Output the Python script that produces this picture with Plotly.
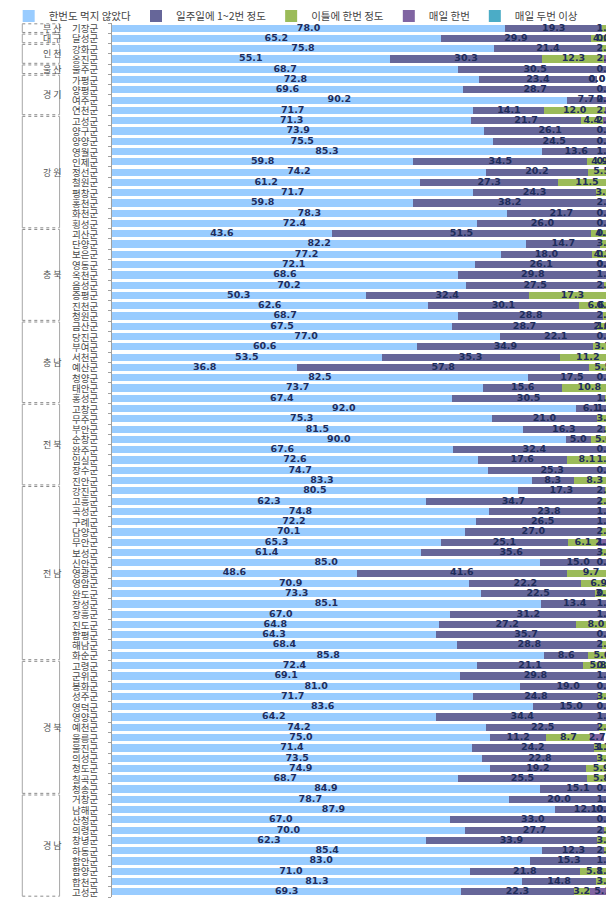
import plotly.graph_objects as go

series_names = ["한번도 먹지 않았다", "일주일에 1~2번 정도", "이틀에 한번 정도", "매일 한번", "매일 두번 이상"]
colors = ["#99CCFF", "#666699", "#9BBB59", "#8064A2", "#4BACC6"]

groups = ["부 산", "대 구", "인 천", "울 산", "경 기", "강 원", "충 북", "충 남", "전 북", "전 남", "경 북", "경 남"]
group_sizes = [1, 1, 2, 1, 4, 11, 9, 8, 8, 17, 13, 10]

counties = ["기장군", "달성군", "강화군", "옹진군", "울주군", "가평군", "양평군", "여주군", "연천군",
            "고성군", "양구군", "양양군", "영월군", "인제군", "정선군", "철원군", "평창군", "홍천군", "화천군", "횡성군",
            "괴산군", "단양군", "보은군", "영동군", "옥천군", "음성군", "증평군", "진천군", "청원군",
            "금산군", "당진군", "부여군", "서천군", "예산군", "청양군", "태안군", "홍성군",
            "고창군", "무주군", "부안군", "순창군", "완주군", "임실군", "장수군", "진안군",
            "강진군", "고흥군", "곡성군", "구례군", "담양군", "무안군", "보성군", "신안군", "영광군", "영암군",
            "완도군", "장성군", "장흥군", "진도군", "함평군", "해남군", "화순군",
            "고령군", "군위군", "봉화군", "성주군", "영덕군", "영양군", "예천군", "울릉군", "울진군", "의성군",
            "청도군", "칠곡군", "청송군",
            "거창군", "남해군", "산청군", "의령군", "창녕군", "하동군", "함안군", "함양군", "합천군", "고성군"]

N = None
never = [78.0, 65.2, 75.8, 55.1, 68.7, 72.8, 69.6, 90.2, 71.7,
         71.3, 73.9, 75.5, 85.3, 59.8, 74.2, 61.2, 71.7, 59.8, 78.3, 72.4,
         43.6, 82.2, 77.2, 72.1, 68.6, 70.2, 50.3, 62.6, 68.7,
         67.5, 77.0, 60.6, 53.5, 36.8, 82.5, 73.7, 67.4,
         92.0, 75.3, 81.5, 90.0, 67.6, 72.6, 74.7, 83.3,
         80.5, 62.3, 74.8, 72.2, 70.1, 65.3, 61.4, 85.0, 48.6, 70.9,
         73.3, 85.1, 67.0, 64.8, 64.3, 68.4, 85.8,
         72.4, 69.1, 81.0, 71.7, 83.6, 64.2, 74.2, 75.0, 71.4, 73.5,
         74.9, 68.7, 84.9,
         78.7, 87.9, 67.0, 70.0, 62.3, 85.4, 83.0, 71.0, 81.3, 69.3]
weekly = [19.3, 29.9, 21.4, 30.3, 30.5, 23.4, 28.7, 7.7, 14.1,
          21.7, 26.1, 24.5, 13.6, 34.5, 20.2, 27.3, 24.3, 38.2, 21.7, 26.0,
          51.5, 14.7, 18.0, 26.1, 29.8, 27.5, 32.4, 30.1, 28.8,
          28.7, 22.1, 34.9, 35.3, 57.8, 17.5, 15.6, 30.5,
          6.1, 21.0, 16.3, 5.0, 32.4, 17.6, 25.3, 8.3,
          17.3, 34.7, 23.8, 26.5, 27.0, 25.1, 35.6, 15.0, 41.6, 22.2,
          22.5, 13.4, 31.2, 27.2, 35.7, 28.8, 8.6,
          21.1, 29.8, 19.0, 24.8, 15.0, 34.4, 22.5, 11.2, 24.2, 22.8,
          19.2, 25.5, 15.1,
          20.0, 12.1, 33.0, 27.7, 33.9, 12.3, 15.3, 21.8, 14.8, 22.3]
every2 = [1.8, 4.0, 2.8, 12.3, 0.8, 0.0, 0.0, 0.0, 12.0,
          4.4, 0.0, 0.0, 1.1, 4.9, 5.5, 11.5, 3.2, 2.0, 0.0, 0.0,
          4.9, 3.1, 4.1, 0.9, 1.5, 2.2, 17.3, 6.6, 2.5,
          2.0, 0.9, 3.7, 11.2, 5.5, 0.0, 10.8, 1.4,
          1.9, 3.7, 2.2, 5.0, 0.0, 8.1, 0.0, 8.3,
          2.3, 2.3, 1.3, 1.3, 2.9, 6.1, 3.0, 0.0, 9.7, 6.9,
          3.5, 1.6, 1.8, 8.0, 0.0, 2.0, 5.6,
          5.8, 1.1, 0.0, 3.5, 0.9, 1.4, 2.6, 8.7, 3.1, 3.6,
          5.9, 5.8, 0.0,
          1.3, 0.0, 0.0, 2.3, 3.8, 2.3, 1.7, 5.8, 3.9, 3.2]
daily1 = [N, 0.9, N, 2.4, N, 0.0, N, 2.1, 2.2,
          2.6, N, N, N, 0.7, N, N, N, N, N, N,
          0.0, N, 0.7, 0.9, N, N, N, 0.7, N,
          1.8, N, N, N, N, N, N, N,
          N, N, N, N, N, 1.6, N, N,
          N, N, N, N, N, 2.1, N, N, N, N,
          0.7, N, N, N, N, N, N,
          0.7, N, N, N, N, N, N, 2.7, 1.3, N,
          N, N, N,
          N, 0.0, N, N, N, N, N, 1.3, N, 5.1]
daily2 = [N] * len(counties)
daily2[50] = 1.4

series = [never, weekly, every2, daily1, daily2]

fig = go.Figure()
ypos = list(range(len(counties)))
for name, col, vals in zip(series_names, colors, series):
    fig.add_trace(go.Bar(
        y=ypos, x=[v if v is not None else 0 for v in vals], name=name, orientation="h",
        marker=dict(color=col, line=dict(width=0)), hoverinfo="x+name",
    ))

# data labels centred in each segment, computed from the series values
lx, ly, lt = [], [], []
for i in range(len(counties)):
    cum = 0.0
    for vals in series:
        v = vals[i]
        if v is None:
            continue
        mid = cum + v / 2.0
        lx.append(min(mid, 97.8))
        ly.append(i)
        lt.append(f"{v:.1f}")
        cum += v
fig.add_trace(go.Scatter(
    x=lx, y=ly, text=lt, mode="text", showlegend=False, hoverinfo="skip",
    textfont=dict(family="DejaVu Sans", size=9.5, color="#1F2D5C", weight="bold"),
    cliponaxis=False,
))

shapes, annotations = [], []

# county names as category labels
for i, c in enumerate(counties):
    annotations.append(dict(xref="paper", yref="y", x=-0.026, y=i, xanchor="right", yanchor="middle",
                            text=c, showarrow=False, borderpad=0,
                            font=dict(family="Noto Sans CJK KR", size=9.5, color="#4A4A4A")))

# group boxes on the left
start = 0
for g, n in zip(groups, group_sizes):
    y0, y1 = start - 0.42, start + n - 1 + 0.42
    x0, x1 = -0.178, -0.104
    for (a, b) in [(y0, y0), (y1, y1)]:
        shapes.append(dict(type="line", xref="paper", yref="y", x0=x0, x1=x1, y0=a, y1=b,
                           line=dict(color="#8C8C8C", width=1, dash="dot")))
    for xx in (x0, x1):
        shapes.append(dict(type="line", xref="paper", yref="y", x0=xx, x1=xx, y0=y0, y1=y1,
                           line=dict(color="#A6A6A6", width=1)))
    annotations.append(dict(xref="paper", yref="y", x=(x0 + x1) / 2, y=start + (n - 1) / 2,
                            text=g, showarrow=False,
                            font=dict(family="Noto Sans CJK KR", size=9, color="#555555")))
    start += n

boundaries = [i - 0.5 for i in range(len(counties) + 1)]

fig.update_layout(
    width=614, height=900,
    barmode="stack", bargap=0.3,
    margin=dict(l=104, r=6, t=15, b=11, autoexpand=False),
    paper_bgcolor="white", plot_bgcolor="white",
    font=dict(family="Noto Sans CJK KR", size=10, color="#333333"),
    shapes=shapes, annotations=annotations,
    legend=dict(orientation="h", x=-0.205, xanchor="left", y=1.008, yanchor="middle",
                font=dict(size=10.5, color="#444444"), itemwidth=30, tracegroupgap=0,
                traceorder="normal", bgcolor="rgba(0,0,0,0)"),
    xaxis=dict(range=[0, 100], visible=False, fixedrange=True),
    yaxis=dict(tickvals=boundaries, range=[len(counties) - 0.5, -0.5],
               showticklabels=False, automargin=False,
               showline=True, linecolor="#A0A0A0", linewidth=1,
               ticks="outside", ticklen=3, tickcolor="#A0A0A0",
               showgrid=False, zeroline=False),
)

fig.write_html("out.html")
